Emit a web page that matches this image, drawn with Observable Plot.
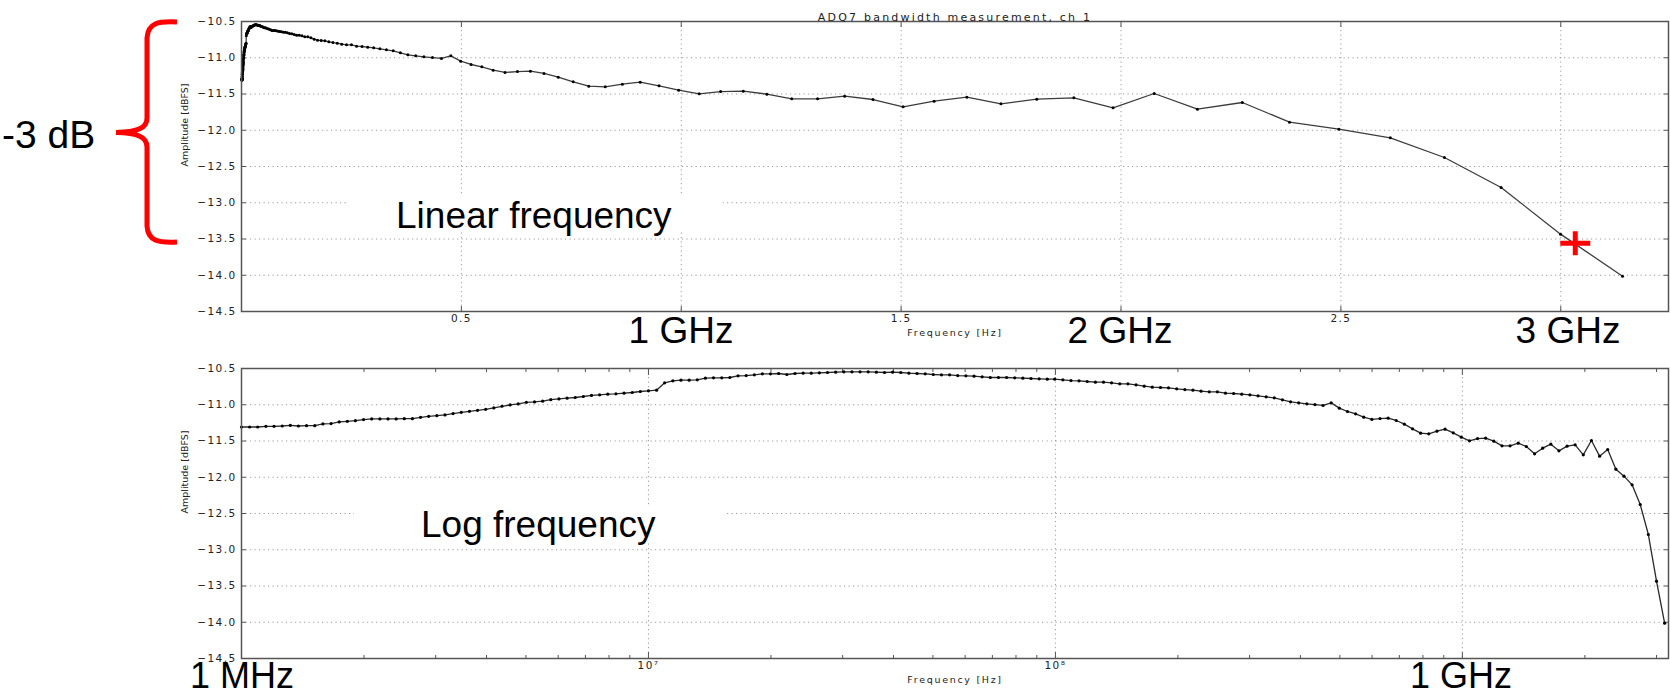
<!DOCTYPE html>
<html>
<head>
<meta charset="utf-8">
<script src="https://cdn.jsdelivr.net/npm/d3@7"></script>
<script src="https://cdn.jsdelivr.net/npm/@observablehq/plot@0.6"></script>
<style>
  html, body { margin: 0; padding: 0; background: #fff; }
  #page { position: relative; width: 1670px; height: 696px; overflow: hidden; background: #fff; }
  #topChart { position: absolute; left: 0; top: 0; }
  #bottomChart { position: absolute; left: 0; top: 340px; }
  #overlay { position: absolute; left: 0; top: 0; pointer-events: none; }
</style>
</head>
<body>
<div id="page">
  <div id="topChart"></div>
  <div id="bottomChart"></div>
  <svg id="overlay" width="1670" height="696" font-family="'Liberation Sans', Arial, sans-serif" font-size="37" fill="#000">
    <path d="M177,22 C158,21 148,23 147,38 L147,118 C147,128 138,132 116,132.5 C138,133 147,137 147,147 L147,226 C148,241 158,243 177,242" fill="none" stroke="#ff0000" stroke-width="5"/>
    <text x="2" y="148" font-size="39">-3 dB</text>
    <rect x="348" y="196" width="375" height="36" fill="#fff"/>
    <text x="396" y="228">Linear frequency</text>
    <text x="681" y="343" text-anchor="middle">1 GHz</text>
    <text x="1120" y="343" text-anchor="middle">2 GHz</text>
    <text x="1568" y="343" text-anchor="middle">3 GHz</text>
    <rect x="354" y="505" width="373" height="38" fill="#fff"/>
    <text x="421" y="537">Log frequency</text>
    <text x="190" y="688" font-size="36">1 MHz</text>
    <text x="1461" y="688" font-size="36" text-anchor="middle">1 GHz</text>
  </svg>
</div>
<script>
// ---- Data (same sweep shown on linear and log axes) ----
const freqMHz = [
  1.000,1.047,1.096,1.148,1.202,1.259,1.318,1.380,1.445,1.514,
  1.585,1.660,1.738,1.820,1.905,1.995,2.089,2.188,2.291,2.399,
  2.512,2.630,2.754,2.884,3.020,3.162,3.311,3.467,3.631,3.802,
  3.981,4.169,4.365,4.571,4.786,5.012,5.248,5.495,5.754,6.026,
  6.310,6.607,6.918,7.244,7.586,7.943,8.318,8.710,9.120,9.550,
  10.00,10.47,10.96,11.48,12.02,12.59,13.18,13.80,14.45,15.14,
  15.85,16.60,17.38,18.20,19.05,19.95,20.89,21.88,22.91,23.99,
  25.12,26.30,27.54,28.84,30.20,31.62,33.11,34.67,36.31,38.02,
  39.81,41.69,43.65,45.71,47.86,50.12,52.48,54.95,57.54,60.26,
  63.10,66.07,69.18,72.44,75.86,79.43,83.18,87.10,91.20,95.50,
  99.6,104.3,109.2,114.3,119.7,125.4,131.3,137.4,143.9,150.7,
  157.8,165.3,173.0,181.2,189.6,198.6,208.0,217.8,228.0,238.8,
  250.0,261.8,274.1,287.0,300.5,314.7,329.5,345.0,361.3,378.3,
  396.1,414.8,434.2,454.7,476.1,498.5,522.0,546.5,572.3,599.3,
  627.5,657.1,687.9,720.3,754.3,789.8,827.1,866.0,906.7,949.5,
  994.1,1040.8,1089.5,1141.1,1194.8,1251.3,1310.0,1371.6,1436.0,1504.6,
  1575.0,1649.5,1727.0,1808.4,1892.8,1982.0,2075.4,2173.8,2275.9,2383.2,
  2495.4,2612.4,2735.5,2864.4,2999.5,3140.5
];
const ampDbfs = [
  -11.307,-11.307,-11.307,-11.298,-11.298,-11.293,-11.284,-11.293,-11.288,-11.288,
  -11.265,-11.260,-11.237,-11.228,-11.219,-11.205,-11.196,-11.196,-11.196,-11.196,
  -11.192,-11.192,-11.173,-11.159,-11.150,-11.141,-11.122,-11.104,-11.090,-11.077,
  -11.063,-11.044,-11.021,-11.003,-10.989,-10.966,-10.961,-10.950,-10.930,-10.920,
  -10.909,-10.900,-10.886,-10.872,-10.863,-10.854,-10.849,-10.840,-10.831,-10.817,
  -10.808,-10.799,-10.698,-10.670,-10.661,-10.661,-10.656,-10.633,-10.629,-10.629,
  -10.624,-10.601,-10.597,-10.587,-10.574,-10.574,-10.569,-10.583,-10.569,-10.564,
  -10.564,-10.560,-10.555,-10.551,-10.546,-10.546,-10.546,-10.546,-10.551,-10.555,
  -10.551,-10.555,-10.564,-10.569,-10.574,-10.583,-10.587,-10.587,-10.597,-10.601,
  -10.606,-10.615,-10.624,-10.624,-10.624,-10.629,-10.633,-10.638,-10.643,-10.647,
  -10.647,-10.656,-10.666,-10.670,-10.679,-10.689,-10.689,-10.698,-10.711,-10.711,
  -10.725,-10.744,-10.757,-10.762,-10.767,-10.780,-10.790,-10.799,-10.813,-10.822,
  -10.822,-10.840,-10.845,-10.854,-10.863,-10.877,-10.891,-10.905,-10.932,-10.960,
  -10.974,-10.987,-10.997,-11.010,-10.974,-11.047,-11.093,-11.125,-11.171,-11.203,
  -11.190,-11.185,-11.217,-11.268,-11.332,-11.392,-11.401,-11.364,-11.337,-11.387,
  -11.447,-11.498,-11.466,-11.461,-11.502,-11.567,-11.567,-11.530,-11.576,-11.677,
  -11.599,-11.544,-11.636,-11.571,-11.553,-11.691,-11.493,-11.709,-11.617,-11.889,
  -11.985,-12.105,-12.376,-12.790,-13.433,-14.013
];
// -3 dB point marker (red cross)
const cutoffFreqMHz = [3033];
const cutoffAmp = [-13.56];

// ---- Axis ticks and labels ----
const yTicks = [-14.5, -14.0, -13.5, -13.0, -12.5, -12.0, -11.5, -11.0, -10.5];
const yTickLabels = ["\u221214.5", "\u221214.0", "\u221213.5", "\u221213.0", "\u221212.5", "\u221212.0", "\u221211.5", "\u221211.0", "\u221210.5"];
const linTicksGHz = [0.5, 1.0, 1.5, 2.0, 2.5, 3.0];
const linLabelTicksGHz = [0.5, 1.5, 2.5];
const linTickLabels = ["0.5", "1.5", "2.5"];
const logTicksMHz = [1, 10, 100, 1000];
const logLabelTicksMHz = [10, 100];
const logTickLabels = ["10\u2077", "10\u2078"];
const logMinorTicksMHz = [2,3,4,5,6,7,8,9,20,30,40,50,60,70,80,90,200,300,400,500,600,700,800,900,2000,3000];
const titleText = "ADQ7 bandwidth measurement, ch 1";
const yLabelText = "Amplitude [dBFS]";
const xLabelText = "Frequency [Hz]";

// ---- Build tables ----
const rows = freqMHz.map((f, i) => ({freqMHz: f, freqGHz: f / 1000, amp: ampDbfs[i]}));
const cutoffRows = cutoffFreqMHz.map((f, i) => ({freqMHz: f, freqGHz: f / 1000, amp: cutoffAmp[i]}));

// wide plus sign (the reference figure is horizontally stretched)
const widePlus = {
  draw(context, size) {
    const r = Math.sqrt(size / Math.PI);
    context.moveTo(-r, 0); context.lineTo(r, 0);
    context.moveTo(0, -0.8 * r); context.lineTo(0, 0.8 * r);
  }
};

const gridStyle = {stroke: "#9a9a9a", strokeOpacity: 1, strokeWidth: 1, strokeDasharray: "1.2,3.3"};
const tickStyle = {stroke: "#555", strokeWidth: 1, label: null, tickFormat: () => ""};
const baseStyle = {fontFamily: "'DejaVu Sans', sans-serif", fontSize: "10.5px", color: "#222", background: "white", overflow: "visible"};

function yAxes() {
  return [
    Plot.axisY(yTicks, {anchor: "left", tickSize: 0, tickPadding: 5, label: null, fontSize: 10.5,
      tickFormat: d => yTickLabels[yTicks.indexOf(d)]}),
    Plot.axisY(yTicks, {anchor: "left", tickSize: -5, ...tickStyle}),
    Plot.axisY(yTicks, {anchor: "right", tickSize: -5, ...tickStyle})
  ];
}

const topChart = Plot.plot({
  width: 1670, height: 340,
  marginLeft: 241, marginRight: 2, marginTop: 21, marginBottom: 29,
  style: baseStyle,
  x: {type: "linear", domain: [0, 3.245]},
  y: {domain: [-14.5, -10.5]},
  marks: [
    Plot.gridY(yTicks, gridStyle),
    Plot.gridX(linTicksGHz, gridStyle),
    ...yAxes(),
    Plot.axisX(linLabelTicksGHz, {anchor: "bottom", tickSize: 0, tickPadding: 3, label: null, fontSize: 10.5,
      tickFormat: d => linTickLabels[linLabelTicksGHz.indexOf(d)]}),
    Plot.axisX(linTicksGHz, {anchor: "bottom", tickSize: -5, ...tickStyle}),
    Plot.axisX(linTicksGHz, {anchor: "top", tickSize: -5, ...tickStyle}),
    Plot.line(rows, {x: "freqGHz", y: "amp", stroke: "#3c3c3c", strokeWidth: 1.3}),
    Plot.dot(rows, {x: "freqGHz", y: "amp", r: 1.5, fill: "#000", stroke: null}),
    Plot.dot(cutoffRows, {x: "freqGHz", y: "amp", symbol: widePlus, r: 15, fill: "none", stroke: "#ff0000", strokeWidth: 5}),
    Plot.frame({stroke: "#555", strokeWidth: 1.5}),
    Plot.text([titleText], {text: d => d, frameAnchor: "top", dy: -8, fontSize: 11, fill: "#222"}),
    Plot.text([yLabelText], {text: d => d, frameAnchor: "left", dx: -57, rotate: -90, fontSize: 9.5, fill: "#222"}),
    Plot.text([xLabelText], {text: d => d, frameAnchor: "bottom", dy: 24, fontSize: 9.5, fill: "#222"})
  ]
});

const bottomChart = Plot.plot({
  width: 1670, height: 356,
  marginLeft: 241, marginRight: 2, marginTop: 28, marginBottom: 38,
  style: baseStyle,
  x: {type: "log", domain: [1, 3210]},
  y: {domain: [-14.5, -10.5]},
  marks: [
    Plot.gridY(yTicks, gridStyle),
    Plot.gridX(logTicksMHz, gridStyle),
    ...yAxes(),
    Plot.axisX(logLabelTicksMHz, {anchor: "bottom", tickSize: 0, tickPadding: 3, label: null, fontSize: 10.5,
      tickFormat: d => logTickLabels[logLabelTicksMHz.indexOf(d)]}),
    Plot.axisX(logTicksMHz, {anchor: "bottom", tickSize: -6, ...tickStyle}),
    Plot.axisX(logTicksMHz, {anchor: "top", tickSize: -6, ...tickStyle}),
    Plot.axisX(logMinorTicksMHz, {anchor: "bottom", tickSize: -3, ...tickStyle}),
    Plot.axisX(logMinorTicksMHz, {anchor: "top", tickSize: -3, ...tickStyle}),
    Plot.line(rows, {x: "freqMHz", y: "amp", stroke: "#2a2a2a", strokeWidth: 1.3}),
    Plot.dot(rows, {x: "freqMHz", y: "amp", r: 1.6, fill: "#000", stroke: null}),
    Plot.frame({stroke: "#555", strokeWidth: 1.5}),
    Plot.text([yLabelText], {text: d => d, frameAnchor: "left", dx: -57, rotate: -90, fontSize: 9.5, fill: "#222"}),
    Plot.text([xLabelText], {text: d => d, frameAnchor: "bottom", dy: 24, fontSize: 9.5, fill: "#222"})
  ]
});

function stretchText(svg) {
  const s = d3.select(svg);
  s.selectAll('g[aria-label="y-axis tick label"], g[aria-label="x-axis tick label"]').attr("letter-spacing", "1.4px");
  s.selectAll("text").each(function() {
    const t = this.textContent;
    if (t === titleText) this.setAttribute("letter-spacing", "2.2px");
    else if (t === xLabelText) this.setAttribute("letter-spacing", "1.7px");
  });
}
stretchText(topChart);
stretchText(bottomChart);

document.getElementById("topChart").appendChild(topChart);
document.getElementById("bottomChart").appendChild(bottomChart);
</script>
</body>
</html>
